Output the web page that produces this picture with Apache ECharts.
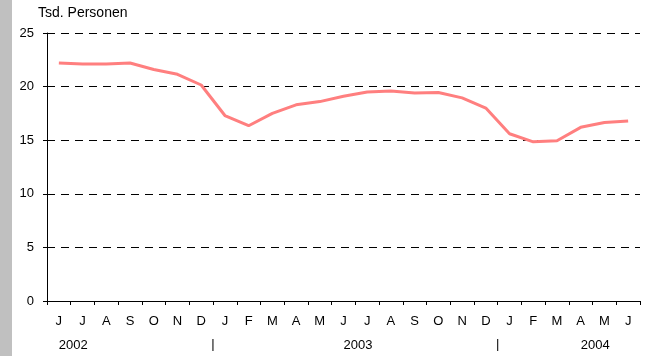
<!DOCTYPE html>
<html><head><meta charset="utf-8">
<script src="https://cdn.jsdelivr.net/npm/echarts@6/dist/echarts.min.js"></script>
<style>html,body{margin:0;padding:0;background:#fff}#c{width:661px;height:356px}</style>
</head><body><div id="c"></div>
<script>
const months = ['J','J','A','S','O','N','D','J','F','M','A','M','J','J','A','S','O','N','D','J','F','M','A','M','J'];
const values = [22.2,22.1,22.1,22.2,21.6,21.15,20.15,17.3,16.35,17.5,18.3,18.6,19.1,19.5,19.6,19.4,19.45,18.95,18.0,15.6,14.85,14.95,16.2,16.65,16.8];
const yearLabels = ['2002','','','','','','','','','','','','2003','','','','','','','','','','2004','',''];
const separatorLabels = ['','','','','','','','|','','','','','','','','','','','','|','','','','','',''];
const yTicks = [0,5,10,15,20,25];
const unitLabel = 'Tsd. Personen';

const font = 'Liberation Sans, Arial, sans-serif';
const chart = echarts.init(document.getElementById('c'), null, {renderer:'canvas'});
chart.setOption({
  animation:false,
  backgroundColor:'#fff',
  graphic:[{type:'rect', left:0, top:0, shape:{width:12, height:356}, style:{fill:'#c0c0c0'}}],
  title:{text:unitLabel, left:33, top:1, textStyle:{fontFamily:font, fontSize:14, fontWeight:'normal', color:'#000'}},
  grid:{left:47, right:21, top:33, bottom:55},
  xAxis:[
    {type:'category', data:months, boundaryGap:true,
     axisLine:{lineStyle:{color:'#000', width:1}},
     axisTick:{show:true, length:4, lineStyle:{color:'#000'}},
     axisLabel:{interval:0, margin:14, fontFamily:font, fontSize:13, color:'#000'}},
    {type:'category', data:yearLabels, boundaryGap:true, position:'bottom',
     axisLine:{show:false}, axisTick:{show:false},
     axisLabel:{interval:0, margin:38, align:'left', fontFamily:font, fontSize:13, color:'#000'}},
    {type:'category', data:separatorLabels, boundaryGap:false, position:'bottom',
     axisLine:{show:false}, axisTick:{show:false},
     axisLabel:{interval:0, margin:37, fontFamily:font, fontSize:13, color:'#000'}}
  ],
  yAxis:{type:'value', min:yTicks[0], max:yTicks[yTicks.length-1], interval:5,
    axisLine:{show:true, lineStyle:{color:'#000', width:1}},
    axisTick:{show:true, length:4, lineStyle:{color:'#000'}},
    axisLabel:{margin:13, fontFamily:font, fontSize:13, color:'#000'},
    splitLine:{show:true, lineStyle:{color:'#000', type:[8,6], width:1}}},
  series:[{type:'line', data:values, xAxisIndex:0, symbol:'none', smooth:false,
    lineStyle:{color:'#ff7f7f', width:3}}]
});
</script></body></html>
